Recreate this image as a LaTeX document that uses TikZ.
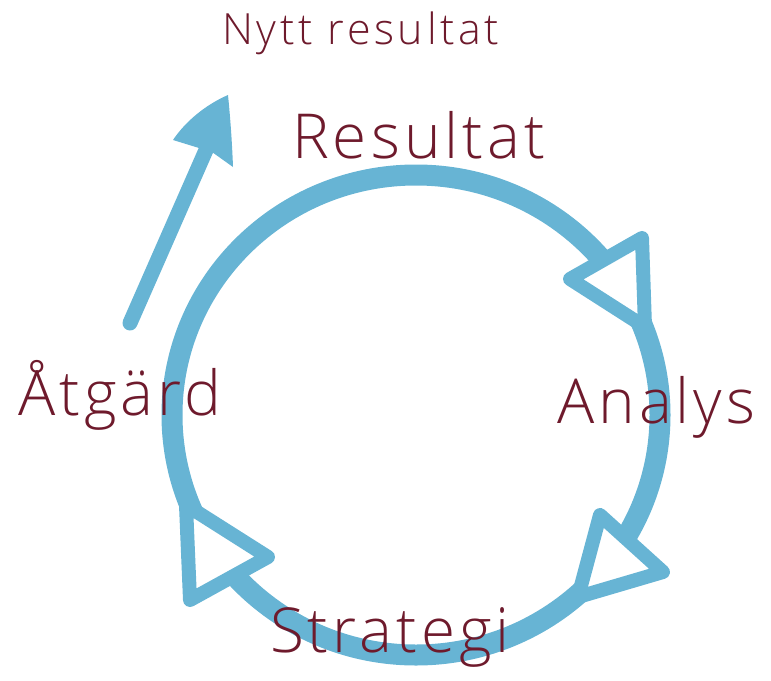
\documentclass[tikz,border=0pt]{standalone}
\usepackage{fontspec}
\IfFontExistsTF{Open Sans Light}{\setmainfont{Open Sans Light}}{\setmainfont{Open Sans}}
\definecolor{ringblue}{RGB}{103,180,212}
\definecolor{labelred}{RGB}{110,26,44}
\begin{document}
\begin{tikzpicture}[x=1pt,y=-1pt,
  ring/.style={draw=ringblue,line width=21pt},
  tri/.style={draw=ringblue,fill=white,line width=14pt,line join=round},
  biglabel/.style={text=labelred,font=\fontsize{62}{62}\selectfont\addfontfeature{LetterSpace=6.5},inner sep=0pt,anchor=base west},
  smalllabel/.style={text=labelred,font=\fontsize{43}{43}\selectfont\addfontfeature{LetterSpace=8.5},inner sep=0pt,anchor=base west}]
\useasboundingbox (0,0) rectangle (771,680);
% ring
\coordinate (c) at (416,415);
\draw[ring] (c) ellipse [x radius=244, y radius=240];
% open triangles
\draw[tri] (642,238) -- (570,279) -- (645,327) -- cycle;
\draw[tri] (600,515) -- (663,572) -- (578,597) -- cycle;
\draw[tri] (186,505) -- (268,557) -- (190,600) -- cycle;
% outgoing arrow
\coordinate (tail) at (130,323);
\coordinate (shafttop) at (206,150);
\draw[draw=ringblue,line width=15pt,line cap=round] (tail) -- (shafttop);
\fill[ringblue] (228,95) .. controls (205,105) and (185,122) .. (173,140) -- (212,152) -- (233,167) .. controls (232,140) and (230,115) .. cycle;
% labels
\node[smalllabel] (nytt) at (222,44) {Nytt resultat};
\node[biglabel] (res) at (292,158) {Resultat};
\node[biglabel] (atg) at (18,415) {Åtgärd};
\node[biglabel] (ana) at (557,423) {Analys};
\node[biglabel] (str) at (270,652) {Strategi};
\end{tikzpicture}
\end{document}
